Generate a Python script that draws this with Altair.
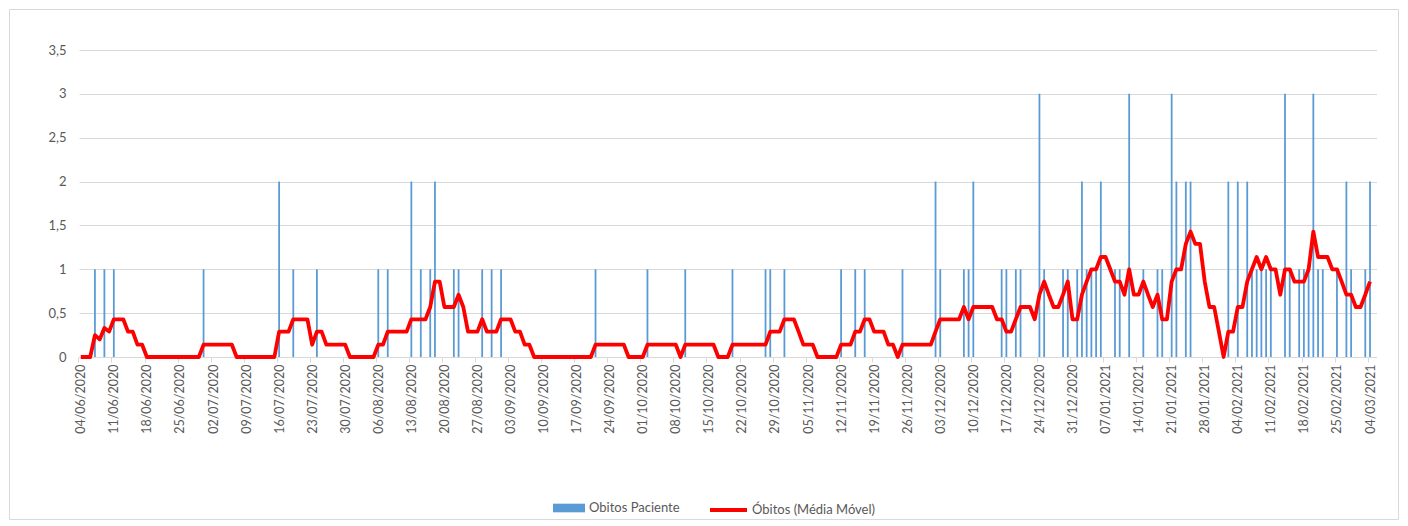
import altair as alt
import pandas as pd

# ---------------- data ----------------
inicio = "2020-06-04"

# daily deaths, one row per week starting 04/06/2020
obitos = [
    0, 0, 0, 1, 0, 1, 0,
    1, 0, 0, 0, 0, 0, 0,
    0, 0, 0, 0, 0, 0, 0,
    0, 0, 0, 0, 0, 1, 0,
    0, 0, 0, 0, 0, 0, 0,
    0, 0, 0, 0, 0, 0, 0,
    2, 0, 0, 1, 0, 0, 0,
    0, 1, 0, 0, 0, 0, 0,
    0, 0, 0, 0, 0, 0, 0,
    1, 0, 1, 0, 0, 0, 0,
    2, 0, 1, 0, 1, 2, 0,
    0, 0, 1, 1, 0, 0, 0,
    0, 1, 0, 1, 0, 1, 0,
    0, 0, 0, 0, 0, 0, 0,
    0, 0, 0, 0, 0, 0, 0,
    0, 0, 0, 0, 1, 0, 0,
    0, 0, 0, 0, 0, 0, 0,
    0, 1, 0, 0, 0, 0, 0,
    0, 0, 1, 0, 0, 0, 0,
    0, 0, 0, 0, 0, 1, 0,
    0, 0, 0, 0, 0, 1, 1,
    0, 0, 1, 0, 0, 0, 0,
    0, 0, 0, 0, 0, 0, 0,
    1, 0, 0, 1, 0, 1, 0,
    0, 0, 0, 0, 0, 0, 1,
    0, 0, 0, 0, 0, 0, 2,
    1, 0, 0, 0, 0, 1, 1,
    2, 0, 0, 0, 0, 0, 1,
    1, 0, 1, 1, 0, 0, 0,
    3, 1, 0, 0, 0, 1, 1,
    0, 1, 2, 1, 1, 1, 2,
    0, 0, 1, 1, 0, 3, 0,
    0, 1, 0, 0, 1, 1, 0,
    3, 2, 0, 2, 2, 0, 0,
    0, 0, 0, 0, 0, 2, 0,
    2, 0, 2, 1, 1, 1, 1,
    1, 0, 0, 3, 1, 0, 1,
    1, 1, 3, 1, 1, 0, 0,
    1, 0, 2, 1, 0, 0, 1,
    2,
]

# moving average line
media_movel = [
    0, 0, 0, 0.25, 0.2, 0.33, 0.29,
    0.43, 0.43, 0.43, 0.29, 0.29, 0.14, 0.14,
    0, 0, 0, 0, 0, 0, 0,
    0, 0, 0, 0, 0, 0.14, 0.14,
    0.14, 0.14, 0.14, 0.14, 0.14, 0, 0,
    0, 0, 0, 0, 0, 0, 0,
    0.29, 0.29, 0.29, 0.43, 0.43, 0.43, 0.43,
    0.14, 0.29, 0.29, 0.14, 0.14, 0.14, 0.14,
    0.14, 0, 0, 0, 0, 0, 0,
    0.14, 0.14, 0.29, 0.29, 0.29, 0.29, 0.29,
    0.43, 0.43, 0.43, 0.43, 0.57, 0.86, 0.86,
    0.57, 0.57, 0.57, 0.71, 0.57, 0.29, 0.29,
    0.29, 0.43, 0.29, 0.29, 0.29, 0.43, 0.43,
    0.43, 0.29, 0.29, 0.14, 0.14, 0, 0,
    0, 0, 0, 0, 0, 0, 0,
    0, 0, 0, 0, 0.14, 0.14, 0.14,
    0.14, 0.14, 0.14, 0.14, 0, 0, 0,
    0, 0.14, 0.14, 0.14, 0.14, 0.14, 0.14,
    0.14, 0, 0.14, 0.14, 0.14, 0.14, 0.14,
    0.14, 0.14, 0, 0, 0, 0.14, 0.14,
    0.14, 0.14, 0.14, 0.14, 0.14, 0.14, 0.29,
    0.29, 0.29, 0.43, 0.43, 0.43, 0.29, 0.14,
    0.14, 0.14, 0, 0, 0, 0, 0,
    0.14, 0.14, 0.14, 0.29, 0.29, 0.43, 0.43,
    0.29, 0.29, 0.29, 0.14, 0.14, 0, 0.14,
    0.14, 0.14, 0.14, 0.14, 0.14, 0.14, 0.29,
    0.43, 0.43, 0.43, 0.43, 0.43, 0.57, 0.43,
    0.57, 0.57, 0.57, 0.57, 0.57, 0.43, 0.43,
    0.29, 0.29, 0.43, 0.57, 0.57, 0.57, 0.43,
    0.71, 0.86, 0.71, 0.57, 0.57, 0.71, 0.86,
    0.43, 0.43, 0.71, 0.86, 1.0, 1.0, 1.14,
    1.14, 1.0, 0.86, 0.86, 0.71, 1.0, 0.71,
    0.71, 0.86, 0.71, 0.57, 0.71, 0.43, 0.43,
    0.86, 1.0, 1.0, 1.29, 1.43, 1.29, 1.29,
    0.86, 0.57, 0.57, 0.29, 0, 0.29, 0.29,
    0.57, 0.57, 0.86, 1.0, 1.14, 1.0, 1.14,
    1.0, 1.0, 0.71, 1.0, 1.0, 0.86, 0.86,
    0.86, 1.0, 1.43, 1.14, 1.14, 1.14, 1.0,
    1.0, 0.86, 0.71, 0.71, 0.57, 0.57, 0.71,
    0.86,
]

serie_barras = "Obitos Paciente"
serie_linha = "Óbitos (Média Móvel)"
y_ticks = [0, 0.5, 1, 1.5, 2, 2.5, 3, 3.5]

# ---------------- table ----------------
datas = pd.date_range(inicio, periods=len(obitos), freq="D")
df = pd.DataFrame({
    "data": datas.strftime("%Y-%m-%d"),
    "obitos": obitos,
    "media": media_movel,
    "s1": serie_barras,
    "s2": serie_linha,
})
semanas = pd.date_range(inicio, periods=40, freq="7D")
x_ticks = [alt.DateTime(year=int(d.year), month=int(d.month), date=int(d.day), utc=True) for d in semanas]

FONT = "Lato"
TXT = "#595959"
GRID = "#D9D9D9"

W, H = 1297.5, 307
px_day = W / 274.75

x_enc = alt.X(
    "data:T",
    scale=alt.Scale(
        type="utc",
        padding=0,
        domain=[
            alt.DateTime(year=2020, month=6, date=3, hours=15, utc=True),
            alt.DateTime(year=2021, month=3, date=5, hours=9, utc=True),
        ],
    ),
    axis=alt.Axis(
        values=x_ticks, format="%d/%m/%Y", labelAngle=-90, title=None,
        grid=False, domainColor=GRID, tickColor=GRID, tickSize=5,
        labelPadding=2, labelFontSize=12.5, labelColor=TXT, labelFont=FONT,
        tickOffset=-px_day / 2, labelOffset=px_day / 2,
        labelOverlap=False, labelFlush=False,
    ),
)

y_axis = alt.Axis(
    values=y_ticks, title=None, domain=False, ticks=False, grid=True,
    gridColor=GRID, labelPadding=13, labelColor=TXT, labelFontSize=13,
    labelFont=FONT, labelExpr="replace(format(datum.value, '~g'), '.', ',')",
)

base = alt.Chart(df)

bars = base.mark_bar(size=1.8).encode(
    x=x_enc,
    y=alt.Y("obitos:Q", scale=alt.Scale(domain=[0, 3.5], nice=False), axis=y_axis),
    fill=alt.Fill(
        "s1:N",
        scale=alt.Scale(domain=[serie_barras], range=["#5B9BD5"]),
        legend=alt.Legend(
            orient="none", legendX=474, legendY=442, title=None,
            symbolType="M-1,-0.27H1V0.27H-1Z", symbolSize=1024,
            symbolStrokeWidth=0, labelFontSize=13, labelColor=TXT,
            labelFont=FONT, labelOffset=4, padding=0,
        ),
    ),
)

line = base.mark_line(strokeWidth=3.8, strokeJoin="round").encode(
    x=x_enc,
    y=alt.Y("media:Q"),
    stroke=alt.Stroke(
        "s2:N",
        scale=alt.Scale(domain=[serie_linha], range=["#FF0000"]),
        legend=alt.Legend(
            orient="none", legendX=629, legendY=439.5, title=None,
            symbolType="stroke", symbolSize=1369, symbolStrokeWidth=3.8,
            labelFontSize=13, labelColor=TXT, labelFont=FONT,
            labelOffset=3, padding=0,
        ),
    ),
)

border = alt.Chart(pd.DataFrame({"b": [0]})).mark_rect(
    fillOpacity=0, stroke=GRID, strokeWidth=1
).encode(
    x=alt.value(-69.5), x2=alt.value(1319.5),
    y=alt.value(-40.5), y2=alt.value(469.5),
)

chart = alt.layer(border, bars, line).resolve_scale(
    fill="independent", stroke="independent"
).properties(
    width=W, height=H,
    padding={"left": 71, "top": 42, "right": 23, "bottom": 167},
    autosize=alt.AutoSizeParams(type="none"),
    background="white",
).configure_view(strokeWidth=0)

chart.save("out.html", embed_options={"renderer": "svg", "actions": False})
